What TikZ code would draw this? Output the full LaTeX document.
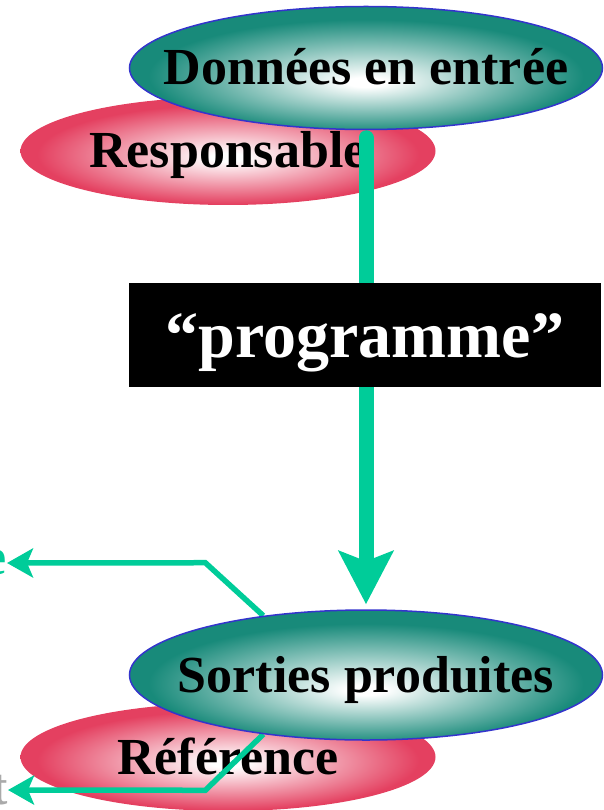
\documentclass[tikz,border=0pt]{standalone}
\usepackage{fontspec}
\setmainfont{Liberation Serif}
\usetikzlibrary{arrows.meta}
\usetikzlibrary{shapes.geometric}

\definecolor{ovalteal}{RGB}{24,138,122}
\definecolor{ovalpink}{RGB}{228,64,96}
\definecolor{ovalblue}{RGB}{52,52,204}
\definecolor{flowgreen}{RGB}{0,204,153}
\definecolor{offgrey}{RGB}{170,170,170}

\pgfdeclareradialshading{tealglow}{\pgfpoint{0bp}{-6bp}}{color(0bp)=(white); color(2bp)=(white); color(23bp)=(ovalteal); color(50bp)=(ovalteal)}
\pgfdeclareradialshading{pinkglow}{\pgfpoint{0bp}{-3bp}}{color(0bp)=(white); color(2bp)=(white); color(23bp)=(ovalpink); color(50bp)=(ovalpink)}

\pgfdeclarelayer{back}
\pgfdeclarelayer{links}
\pgfsetlayers{back,links,main}

\begin{document}
\begin{tikzpicture}[x=1pt,y=-1pt,
                big/.style={font=\fontsize{52}{56}\selectfont\bfseries},
                ovaltext/.style={big,inner sep=0pt,text height=34pt,text depth=0pt},
                inbox/.style={ellipse,minimum width=473,minimum height=123,draw=ovalblue,line width=1.5pt,shading=tealglow},
                role/.style={ellipse,minimum width=415,minimum height=108,shading=pinkglow},
                progbox/.style={fill=black,text=white,minimum width=472,minimum height=104,inner sep=0pt,
                                font=\fontsize{66}{72}\selectfont\bfseries,text height=58pt,text depth=14pt},
                wire/.style={flowgreen,line width=5.5pt,-{Stealth[length=26pt,width=29pt,inset=6pt]}}
                ]
            \useasboundingbox (0,0) rectangle (604,810);

            \begin{pgfonlayer}{back}
            \node[role,label={[ovaltext]center:Responsable}] (resp) at (228,151) {};
            \node[role,label={[ovaltext]center:Référence}] (ref) at (228,757) {};
            \end{pgfonlayer}

            \node[inbox,label={[ovaltext]center:Données en entrée}] (entree) at (366,68) {};
            \node[inbox,minimum height=130,label={[ovaltext]center:Sorties produites}] (sorties) at (366,675) {};

            \node[progbox] (prog) at (365,335) {“programme”};

            \node[big,text=flowgreen,anchor=east,inner sep=0pt] (outUp) at (7,563) {e};
            \node[big,text=offgrey,anchor=east,inner sep=0pt] (outDown) at (8,790) {t};

            \begin{pgfonlayer}{links}
            \draw[flowgreen,line width=15pt,line cap=round,shorten <=7.5pt,shorten >=5pt,
                  -{Stealth[length=53pt,width=54pt,inset=10pt]}] (entree.south) -- (sorties.north);
            \draw[wire] (sorties.150) -- ++(-58,-53) -- (outUp.east);
            \draw[wire] (sorties.210) -- ++(-58,56) -- (outDown.east);
            \end{pgfonlayer}
\end{tikzpicture}
\end{document}
